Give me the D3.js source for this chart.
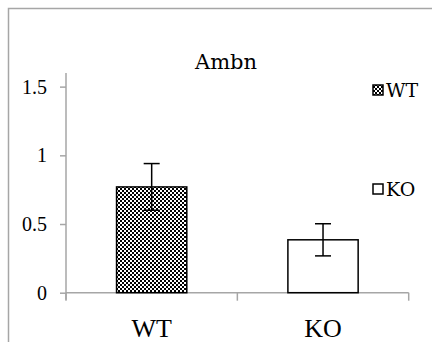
<!DOCTYPE html>
<html>
<head>
<meta charset="utf-8">
<script src="https://cdn.jsdelivr.net/npm/d3@7"></script>
<style>
  body { margin: 0; background: #fff; }
  svg { display: block; }
</style>
</head>
<body>
<div id="chart"></div>
<script>
// chart data
let categories = ["WT", "KO"];
let means = [0.77, 0.385];
let errors = [0.17, 0.117];
let yTicks = [0, 0.5, 1, 1.5];
let yMax = 1.6;
let title = "Ambn";

let width = 432, height = 342;
let plotLeft = 66, plotRight = 408.7, plotTop = 72.9, plotBottom = 292.7;

let svg = d3.select("#chart").append("svg")
    .attr("width", width)
    .attr("height", height)
    .attr("font-family", "Liberation Serif");

// checkerboard fill for WT
let defs = svg.append("defs");
let pat = defs.append("pattern")
    .attr("id", "checker")
    .attr("patternUnits", "userSpaceOnUse")
    .attr("width", 4)
    .attr("height", 4);
pat.append("rect").attr("width", 4).attr("height", 4).attr("fill", "#fff");
pat.append("rect").attr("width", 2).attr("height", 2).attr("fill", "#000");
pat.append("rect").attr("x", 2).attr("y", 2).attr("width", 2).attr("height", 2).attr("fill", "#000");

let fills = ["url(#checker)", "#fff"];

// outer frame
svg.append("rect")
    .attr("x", 8.5).attr("y", 8.5)
    .attr("width", 600).attr("height", 600)
    .attr("fill", "none")
    .attr("stroke", "#a6a6a6")
    .attr("stroke-width", 1.5);

let x = d3.scaleBand()
    .domain(categories)
    .range([plotLeft, plotRight])
    .paddingInner(0.59)
    .paddingOuter(0.295);

let y = d3.scaleLinear()
    .domain([0, yMax])
    .range([plotBottom, plotTop]);

// title
svg.append("text")
    .attr("x", 226)
    .attr("y", 69)
    .attr("text-anchor", "middle")
    .attr("font-family", "DejaVu Serif")
    .attr("font-size", 21)
    .attr("fill", "#000")
    .text(title);

// y axis
let yAxis = d3.axisLeft(y)
    .tickValues(yTicks)
    .tickSize(6)
    .tickPadding(13)
    .tickFormat(d3.format("~g"));

let gy = svg.append("g")
    .attr("transform", "translate(" + plotLeft + ",0)")
    .call(yAxis);
gy.attr("font-family", "Liberation Serif").attr("font-size", 20);
gy.select(".domain").remove();
gy.selectAll(".tick line").attr("stroke", "#a6a6a6").attr("stroke-width", 1.5);
gy.selectAll(".tick text").attr("fill", "#000");
gy.append("line")
    .attr("x1", 0).attr("x2", 0)
    .attr("y1", plotTop).attr("y2", plotBottom + 7)
    .attr("stroke", "#a6a6a6")
    .attr("stroke-width", 1.5);

// x axis
let gx = svg.append("g").attr("transform", "translate(0," + plotBottom + ")");
gx.append("line")
    .attr("x1", plotLeft).attr("x2", plotRight)
    .attr("stroke", "#a6a6a6")
    .attr("stroke-width", 1.5);
let bounds = categories.map(c => x(c) - x.step() * x.paddingInner() / 2);
bounds.push(plotRight);
gx.selectAll(".xtick")
    .data(bounds)
    .enter().append("line")
    .attr("class", "xtick")
    .attr("x1", d => d).attr("x2", d => d)
    .attr("y1", 0).attr("y2", 8)
    .attr("stroke", "#a6a6a6")
    .attr("stroke-width", 1.5);
gx.selectAll(".xlabel")
    .data(categories)
    .enter().append("text")
    .attr("class", "xlabel")
    .attr("x", d => x(d) + x.bandwidth() / 2)
    .attr("y", 44)
    .attr("text-anchor", "middle")
    .attr("font-size", 26)
    .text(d => d);

// bars
svg.selectAll(".bar")
    .data(categories)
    .enter().append("rect")
    .attr("class", "bar")
    .attr("x", d => x(d))
    .attr("y", (d, i) => y(means[i]))
    .attr("width", x.bandwidth())
    .attr("height", (d, i) => y(0) - y(means[i]))
    .attr("fill", (d, i) => fills[i])
    .attr("stroke", "#000")
    .attr("stroke-width", 1.5);

// error bars
let capW = 16;
let eb = svg.selectAll(".err")
    .data(categories)
    .enter().append("g")
    .attr("class", "err")
    .attr("stroke", "#000")
    .attr("stroke-width", 1.5);
eb.append("line")
    .attr("x1", d => x(d) + x.bandwidth() / 2)
    .attr("x2", d => x(d) + x.bandwidth() / 2)
    .attr("y1", (d, i) => y(means[i] + errors[i]))
    .attr("y2", (d, i) => y(means[i] - errors[i]));
eb.append("line")
    .attr("x1", d => x(d) + x.bandwidth() / 2 - capW / 2)
    .attr("x2", d => x(d) + x.bandwidth() / 2 + capW / 2)
    .attr("y1", (d, i) => y(means[i] + errors[i]))
    .attr("y2", (d, i) => y(means[i] + errors[i]));
eb.append("line")
    .attr("x1", d => x(d) + x.bandwidth() / 2 - capW / 2)
    .attr("x2", d => x(d) + x.bandwidth() / 2 + capW / 2)
    .attr("y1", (d, i) => y(means[i] - errors[i]))
    .attr("y2", (d, i) => y(means[i] - errors[i]));

// legend
let legendY = [90, 189];
let lg = svg.selectAll(".legend")
    .data(categories)
    .enter().append("g")
    .attr("class", "legend")
    .attr("transform", (d, i) => "translate(373," + legendY[i] + ")");
lg.append("rect")
    .attr("x", 0).attr("y", -5)
    .attr("width", 10).attr("height", 10)
    .attr("fill", (d, i) => fills[i])
    .attr("stroke", "#000")
    .attr("stroke-width", 1.5);
lg.append("text")
    .attr("x", 13)
    .attr("y", 7)
    .attr("font-family", "DejaVu Serif")
    .attr("font-size", 19)
    .attr("fill", "#000")
    .text(d => d);
</script>
</body>
</html>
